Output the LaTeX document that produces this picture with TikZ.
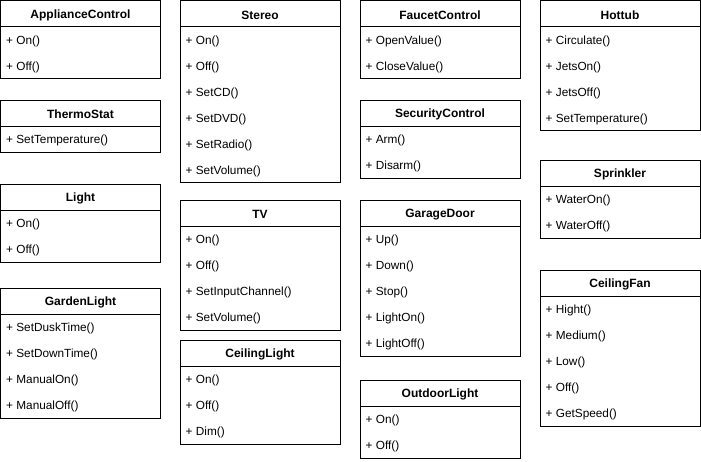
\documentclass[tikz,border=0pt]{standalone}
\usepackage{fontspec}
\setmainfont{Liberation Sans}
\tikzset{
  x=1pt, y=1pt,
  clstitle/.style={font=\fontsize{12}{14}\selectfont\bfseries, inner sep=0pt, anchor=center},
  clsitem/.style={font=\fontsize{11.8}{14}\selectfont, inner sep=0pt, anchor=west},
  clsline/.style={draw=black, line width=0.9pt}
}
\newcommand\umlcls[5]{% #1 name, #2 left, #3 top, #4 title, #5 items
  \node[clstitle] (#1) at ({#2+80}, {-#3-14.5}) {#4};
  \foreach \itm [count=\i] in {#5} {
    \node[clsitem] (#1-\i) at ({#2+5.5}, {-#3-14.5-26*\i}) {+ \itm};
    \xdef\nitems{\i}
  }
  \draw[clsline] (#2,-#3) rectangle ({#2+160}, {-#3-26-26*\nitems});
  \draw[clsline] (#2,{-#3-26}) -- ({#2+160},{-#3-26});
}
\begin{document}
\begin{tikzpicture}
\useasboundingbox (0,0) rectangle (701,-462);
\umlcls{appl}{0.5}{0.5}{ApplianceControl}{On(),Off()}
\umlcls{thermo}{0.5}{100}{ThermoStat}{SetTemperature()}
\umlcls{light}{0.5}{184}{Light}{On(),Off()}
\umlcls{garden}{0.5}{288}{GardenLight}{SetDuskTime(),SetDownTime(),ManualOn(),ManualOff()}
\umlcls{stereo}{180}{0.5}{Stereo}{On(),Off(),SetCD(),SetDVD(),SetRadio(),SetVolume()}
\umlcls{tv}{180}{200}{TV}{On(),Off(),SetInputChannel(),SetVolume()}
\umlcls{ceillight}{180}{340}{CeilingLight}{On(),Off(),Dim()}
\umlcls{faucet}{360}{0.5}{FaucetControl}{OpenValue(),CloseValue()}
\umlcls{security}{360}{100}{SecurityControl}{Arm(),Disarm()}
\umlcls{garage}{360}{200}{GarageDoor}{Up(),Down(),Stop(),LightOn(),LightOff()}
\umlcls{outdoor}{360}{380}{OutdoorLight}{On(),Off()}
\umlcls{hottub}{540}{0.5}{Hottub}{Circulate(),JetsOn(),JetsOff(),SetTemperature()}
\umlcls{sprinkler}{540}{160}{Sprinkler}{WaterOn(),WaterOff()}
\umlcls{fan}{540}{270}{CeilingFan}{Hight(),Medium(),Low(),Off(),GetSpeed()}
\end{tikzpicture}
\end{document}
